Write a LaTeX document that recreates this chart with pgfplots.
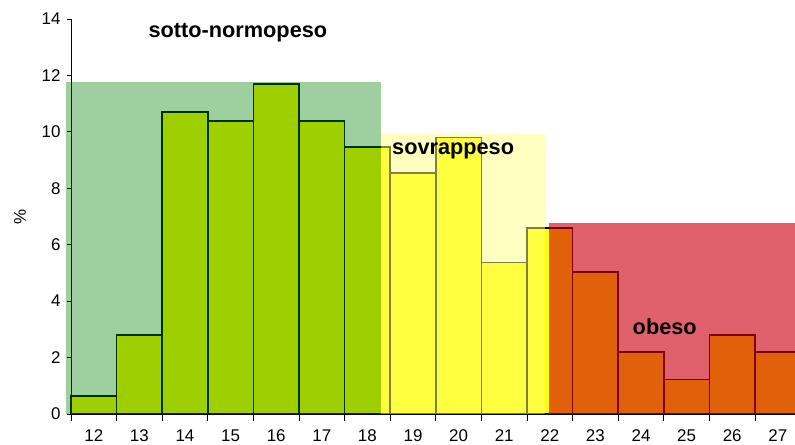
\documentclass[border=0pt]{standalone}
\usepackage{fontspec}
\setmainfont{Liberation Sans}
\usepackage{pgfplots}
\pgfplotsset{compat=1.18}
\definecolor{ovgreen}{HTML}{008200}
\definecolor{ovyellow}{HTML}{FFFF80}
\definecolor{ovred}{HTML}{CD0010}
\definecolor{baryellow}{HTML}{FFFF00}
\begin{document}
\begin{tikzpicture}
\begin{axis}[
  scale only axis, width=724bp, height=395bp,
  xmin=11.5, xmax=27.377, ymin=0, ymax=14,
  axis x line*=bottom, axis y line*=left,
  axis line style={line width=0.8bp, -},
  clip=false,
  ytick={0,2,...,14},
  xtick={12,...,27},
  minor xtick={11.5,12.5,...,27.5},
  major x tick style={draw=none},
  tick style={black, line width=0.8bp},
  tick align=outside,
  major tick length=4bp, minor tick length=7bp,
  /pgf/number format/assume math mode=true,
  ticklabel style={font=\fontsize{17}{20}\selectfont},
  xticklabel style={yshift=-8bp},
  yticklabel style={xshift=-3bp},
  ylabel={\%},
  ylabel style={font=\fontsize{17}{20}\selectfont, anchor=center, at={(axis description cs:-0.0705,0.5)}},
]
\addplot[ybar, bar width=1, bar shift=0, fill=baryellow, draw=black, line width=1.7bp]
  coordinates {(12,0.65) (13,2.8) (14,10.7) (15,10.38) (16,11.69) (17,10.38) (18,9.47)
               (19,8.53) (20,9.8) (21,5.37) (22,6.6) (23,5.04) (24,2.2) (25,1.22) (26,2.81) (27,2.2)};
\addplot[fill=ovgreen, fill opacity=0.38, draw=none]
  coordinates {(11.39,11.77) (18.3,11.77)} \closedcycle;
\addplot[fill=ovyellow, fill opacity=0.5, draw=none]
  coordinates {(18.3,9.93) (21.9,9.93)} \closedcycle;
\addplot[fill=ovred, fill opacity=0.62, draw=none]
  coordinates {(21.98,6.77) (27.6,6.77)} \closedcycle;
\node[font=\bfseries\fontsize{21.8}{26}\selectfont] at (axis cs:15.16,13.5) {sotto-normopeso};
\node[font=\bfseries\fontsize{21.8}{26}\selectfont] at (axis cs:19.88,9.31) {sovrappeso};
\node[font=\bfseries\fontsize{21.8}{26}\selectfont] at (axis cs:24.52,3.09) {obeso};
\end{axis}
\pgfresetboundingbox
\path[use as bounding box] ([xshift=-71bp,yshift=-31bp]current axis.south west) rectangle ([yshift=19bp]current axis.north east);
\end{tikzpicture}
\end{document}
